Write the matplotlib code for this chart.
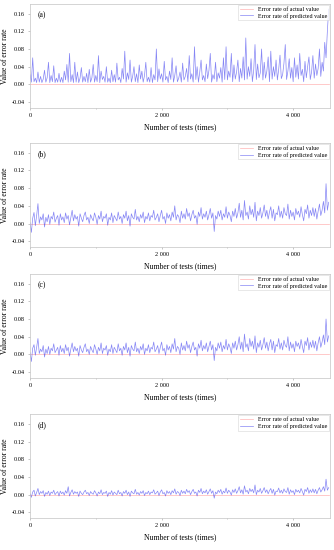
import numpy as np
import matplotlib
matplotlib.use("Agg")
import matplotlib.pyplot as plt
from matplotlib.ticker import MultipleLocator, FuncFormatter

plt.rcParams['font.family'] = ['Liberation Serif', 'DejaVu Serif']

# predicted error rate, one reading every 20 tests (values in 1/1000)
step = 20
pred_a = [22, 5, 60, 6, 14, 4, 28, 5, 18, 4, 12, 32,
          5, 15, 50, 4, 20, 6, 42, 4, 14, 5, 25, 5,
          16, 4, 30, 10, 45, 5, 70, 6, 22, 4, 50, 5,
          28, 4, 14, 38, 5, 18, 6, 25, 4, 34, 5, 15,
          45, 5, 20, 6, 65, 4, 30, 11, 18, 5, 40, 5,
          14, 4, 32, 6, 22, 5, 48, 10, 16, 4, 36, 12,
          75, 5, 26, 11, 55, 5, 18, 40, 6, 24, 4, 44,
          12, 30, 5, 20, 50, 6, 16, 5, 38, 4, 22, 10,
          80, 6, 35, 12, 24, 5, 52, 10, 18, 4, 30, 11,
          60, 5, 20, 42, 6, 14, 28, 5, 48, 10, 18, 36,
          6, 65, 12, 24, 5, 85, 11, 40, 5, 28, 55, 10,
          20, 6, 46, 13, 32, 70, 5, 22, 12, 50, 6, 26,
          14, 38, 5, 60, 11, 85, 10, 30, 16, 70, 6, 44,
          12, 28, 55, 6, 36, 14, 62, 10, 105, 12, 40, 18,
          58, 6, 32, 90, 11, 46, 15, 26, 80, 10, 50, 14,
          30, 62, 6, 75, 12, 40, 18, 55, 10, 34, 66, 13,
          22, 48, 90, 11, 30, 58, 14, 38, 6, 60, 16, 44,
          12, 70, 20, 34, 6, 52, 15, 40, 62, 11, 28, 65,
          14, 46, 20, 36, 80, 18, 50, 30, 95, 60, 120, 170]
pred_b = [2, -20, 12, 25, -5, 18, 45, 0, 15, 8, 22, -8,
          14, 4, 20, -2, 16, 10, 26, 3, 12, 18, -4, 22,
          8, 15, 2, 24, 10, 18, -3, 14, 30, 6, 20, 10,
          16, -6, 22, 12, 4, 18, 26, 8, 14, 0, 20, 12,
          6, 24, 14, -2, 18, 10, 28, 4, 16, 12, 22, -4,
          14, 8, 24, 2, 18, 12, 6, 26, 10, 16, 0, 20,
          12, 28, 6, 18, -6, 22, 14, 10, 32, 8, 16, 4,
          20, 12, 26, 2, 16, 10, 24, 6, 18, 14, 30, 8,
          14, 22, 4, 18, 30, 10, 16, 0, 24, 12, 20, 6,
          26, 14, 40, 8, 20, 16, 2, 28, 12, 22, 10, 34,
          16, 24, 6, 20, 30, 12, 18, -2, 26, 16, 36, 10,
          22, 14, 28, 8, 20, 34, 12, 24, -18, 18, 10, 28,
          16, 30, 8, 22, 14, 38, 12, 26, 18, 4, 28, 16,
          34, 12, 24, 46, 14, 30, 8, 52, 18, 26, 10, 40,
          20, 32, 14, 48, 6, 28, 18, 36, 12, 24, 42, 16,
          30, 10, 26, 38, 12, 32, 6, 24, 20, 40, 14, 28,
          12, 36, 22, 18, 44, 10, 30, 16, 26, 8, 34, 20,
          28, 14, 38, 20, 6, 32, 22, 42, 12, 30, 18, 36,
          16, 34, 10, 28, 44, 18, 30, 50, 24, 90, 30, 48]
pred_c = [4, -16, 14, 22, -2, 16, 36, 2, 12, 6, 20, -6,
          12, 2, 18, 0, 14, 8, 24, 4, 10, 16, -2, 20,
          6, 14, 2, 22, 8, 16, -4, 12, 26, 6, 18, 8,
          14, -4, 20, 10, 4, 16, 24, 6, 12, 0, 18, 10,
          4, 22, 12, 0, 16, 8, 26, 2, 14, 10, 20, -2,
          12, 6, 22, 2, 16, 10, 4, 24, 8, 14, -2, 18,
          10, 26, 4, 16, -4, 20, 12, 8, 28, 6, 14, 2,
          18, 10, 24, 0, 14, 8, 22, 4, 16, 12, 28, 6,
          12, 20, 2, 16, 28, 8, 14, -2, 22, 10, 18, 4,
          24, 12, 36, 6, 18, 14, 0, 26, 10, 20, 8, 30,
          14, 22, 4, 18, 28, 10, 16, -4, 24, 14, 32, 8,
          20, 12, 26, 6, 18, 30, 10, 22, -14, 16, 8, 26,
          14, 28, 6, 20, 12, 34, 10, 24, 16, 2, 26, 14,
          30, 10, 22, 40, 12, 28, 6, 46, 16, 24, 8, 36,
          18, 30, 12, 42, 4, 26, 16, 32, 10, 22, 38, 14,
          28, 8, 24, 34, 10, 30, 4, 22, 18, 36, 12, 26,
          10, 32, 20, 16, 40, 8, 28, 14, 24, 6, 30, 18,
          26, 12, 34, 18, 4, 30, 20, 38, 10, 28, 16, 32,
          14, 30, 8, 26, 40, 16, 28, 44, 22, 80, 28, 42]
pred_d = [2, -6, 6, 10, -3, 5, 14, 0, 7, 3, 9, -4,
          5, 1, 8, -2, 6, 3, 10, 0, 4, 7, -3, 8,
          2, 6, -1, 9, 3, 18, -3, 5, 11, 1, 7, 3,
          6, -4, 8, 3, 0, 6, 10, 2, 5, -2, 7, 3,
          1, 9, 4, -3, 6, 2, 11, 0, 5, 3, 8, -4,
          5, 1, 9, -1, 6, 3, 0, 10, 2, 5, -3, 7,
          3, 10, 0, 6, -4, 8, 4, 2, 12, 1, 5, -1,
          7, 3, 9, -2, 5, 2, 8, 0, 6, 4, 11, 1,
          4, 8, -2, 6, 11, 2, 5, -3, 9, 3, 7, 0,
          9, 4, 13, 1, 7, 5, -2, 10, 3, 8, 2, 12,
          5, 9, 0, 7, 12, 3, 6, -3, 10, 5, 14, 2,
          8, 4, 11, 1, 7, 13, 3, 9, -8, 6, 2, 10,
          5, 12, 1, 8, 4, 15, 3, 10, 6, -1, 11, 5,
          13, 3, 9, 18, 4, 11, 1, 20, 6, 10, 2, 14,
          7, 12, 4, 22, 0, 10, 6, 14, 3, 9, 16, 5,
          11, 2, 9, 14, 3, 12, -1, 8, 7, 15, 4, 10,
          3, 13, 7, 5, 16, 1, 11, 5, 9, 0, 12, 6,
          10, 4, 14, 7, -1, 12, 7, 16, 3, 11, 5, 13,
          4, 12, 2, 10, 16, 6, 11, 18, 8, 35, 10, 16]
actual_rate = 0.0  # error rate of actual value is zero throughout

panels = [('(a)', pred_a), ('(b)', pred_b), ('(c)', pred_c), ('(d)', pred_d)]
bottoms = [0.804, 0.551, 0.313, 0.058]

fig = plt.figure(figsize=(3.34, 5.5), dpi=100)

for (label, vals), b in zip(panels, bottoms):
    y = np.array(vals) / 1000.0
    x = np.arange(len(y)) * step
    ax = fig.add_axes([0.09, b, 0.898, 0.189])
    ax.plot(x, np.full(len(y), actual_rate), color='#ffb4b4', lw=0.5,
            label='Error rate of actual value')
    ax.plot(x, y, color='#3535ee', lw=0.5, alpha=0.6,
            label='Error rate of predicted value')
    ax.set_xlim(0, 4560)
    ax.set_ylim(-0.053, 0.182)
    ax.set_yticks([-0.04, 0.0, 0.04, 0.08, 0.12, 0.16])
    ax.yaxis.set_major_formatter(FuncFormatter(lambda v, p: '%.2f' % v if abs(v) > 1e-9 else '0.00'))
    ax.xaxis.set_major_locator(MultipleLocator(2000))
    ax.xaxis.set_minor_locator(MultipleLocator(1000))
    ax.xaxis.set_major_formatter(FuncFormatter(lambda v, p: '{:,.0f}'.format(v).replace(',', ' ')))
    ax.tick_params(labelsize=4.5, length=1.5, width=0.4, color='#999999', pad=2)
    ax.tick_params(which='minor', length=1, width=0.4, color='#999999')
    for s in ax.spines.values():
        s.set_color('#c4c4c4')
        s.set_linewidth(0.5)
    ax.set_xlabel('Number of tests (times)', fontsize=5.5, labelpad=4)
    ax.set_ylabel('Value of error rate', fontsize=5.5, labelpad=2)
    ax.text(0.025, 0.93, label, transform=ax.transAxes, fontsize=5.5, va='top')
    leg = ax.legend(loc='upper right', fontsize=4.3, frameon=True, fancybox=False,
                    borderpad=0.3, handlelength=2.2, labelspacing=0.2,
                    borderaxespad=0.15)
    leg.get_frame().set_linewidth(0.4)
    leg.get_frame().set_edgecolor('#cccccc')

fig.savefig('out.png', dpi=100)
